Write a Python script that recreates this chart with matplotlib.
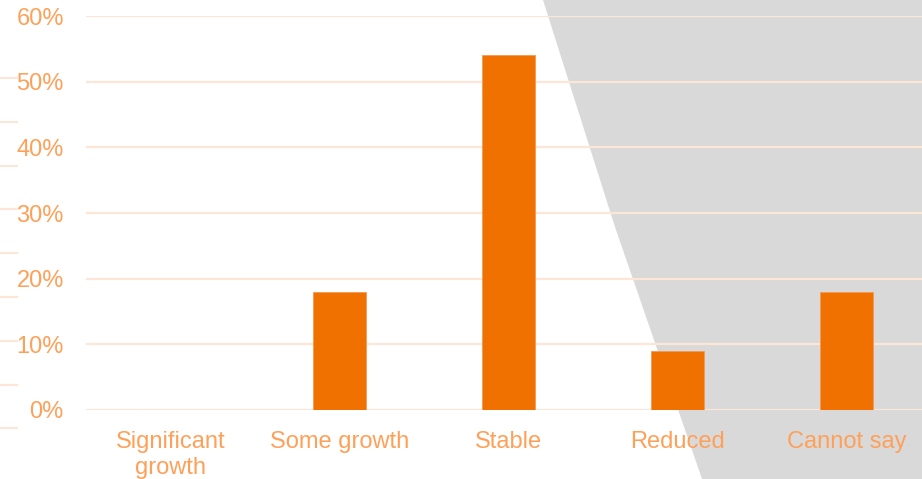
import numpy as np
import matplotlib.pyplot as plt
from matplotlib.patches import Polygon
from matplotlib.lines import Line2D

categories = ["Significant\ngrowth", "Some growth", "Stable", "Reduced", "Cannot say"]
values = [0, 18, 54, 9, 18]
yticks = [0, 10, 20, 30, 40, 50, 60]

bar_col = "#F07000"
text_col = "#FFA058"
grid_col = "#FDE6D6"

plt.rcParams['font.family'] = ['Liberation Sans', 'DejaVu Sans']

W, H = 922, 479
fig = plt.figure(figsize=(W / 100, H / 100), dpi=100)

# grey background shape on the right
poly = Polygon([(543 / W, 1), (615 / W, 1 - 227 / H), (702 / W, 0), (1, 0), (1, 1)],
               closed=True, transform=fig.transFigure, facecolor="#D9D9D9",
               edgecolor="none", zorder=0)
fig.add_artist(poly)

# little dashes on the left edge
for yy in np.arange(78, 440, 43.8):
    fig.add_artist(Line2D([0, 17 / W], [1 - yy / H, 1 - yy / H], transform=fig.transFigure,
                          color=grid_col, lw=1.5, zorder=0))

# axes: 0% at y=410, 60% at y=16; categories 169 px apart starting at x=86
ax_left, ax_w = 86 / W, 845 / W
ax_bottom, ax_h = 1 - 410 / H, 394 / H
ax = fig.add_axes([ax_left, ax_bottom, ax_w, ax_h])
ax.set_facecolor("none")

x = np.arange(len(categories))
ax.bar(x, values, width=0.315, color=bar_col, edgecolor="#F59A55", linewidth=0.6, zorder=3)

ax.set_xlim(-0.5, len(categories) - 0.5)
ax.set_ylim(0, 60)
ax.set_yticks(yticks)
ax.set_yticklabels([f"{v}%" for v in yticks])
ax.set_xticks(x)
ax.set_xticklabels(categories, linespacing=1.25)
ax.tick_params(axis='both', length=0, labelsize=17, labelcolor=text_col)
ax.tick_params(axis='y', pad=16)
ax.tick_params(axis='x', pad=15)
ax.yaxis.grid(True, color=grid_col, lw=1.6, zorder=1)
ax.set_axisbelow(True)
for s in ax.spines.values():
    s.set_visible(False)

fig.savefig("out.png", dpi=100)
